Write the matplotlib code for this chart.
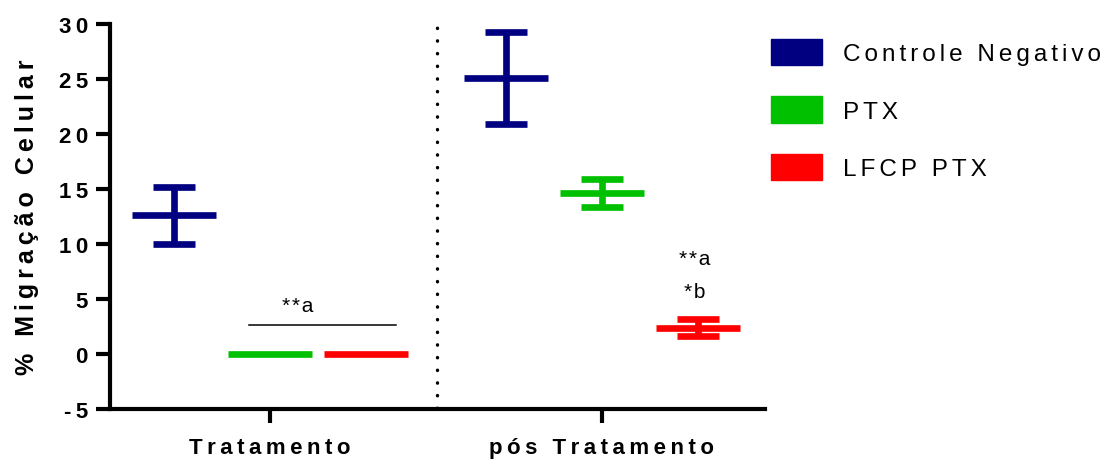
import matplotlib
matplotlib.use("Agg")
import matplotlib.pyplot as plt
from matplotlib.patches import Patch

# Data
groups = ["Tratamento", "pós Tratamento"]
series = ["Controle Negativo", "PTX", "LFCP PTX"]
colors = ["#000080", "#00C000", "#FF0000"]
means = {
    "Controle Negativo": [12.6, 25.1],
    "PTX": [0.0, 14.65],
    "LFCP PTX": [0.0, 2.4],
}
errors = {
    "Controle Negativo": [2.6, 4.2],
    "PTX": [0.0, 1.3],
    "LFCP PTX": [0.0, 0.75],
}
yticks = [-5, 0, 5, 10, 15, 20, 25, 30]

THIN = "\u2009"       # 1/5 em
SIXTH = "\u2006"      # 1/6 em
HAIR = "\u200a"


def spaced(text, sep):
    """Widen letter spacing by inserting narrow spaces between characters."""
    return sep.join(text)


plt.rcParams["font.family"] = ["Liberation Sans", "DejaVu Sans"]

fig = plt.figure(figsize=(11.04, 4.6), dpi=100)
ax = fig.add_axes([110 / 1104, 50 / 460, (765 - 110) / 1104, (410 - 25) / 460])

offsets = [-0.29, 0.0, 0.29]
half_width = 0.127
lw = 4.8

for s, off, c in zip(series, offsets, colors):
    xs = [g + off for g in range(len(groups))]
    for x, m, e in zip(xs, means[s], errors[s]):
        ax.hlines(m, x - half_width, x + half_width, color=c, lw=lw, zorder=3)
        if e > 0:
            ax.errorbar(x, m, yerr=e, fmt="none", ecolor=c, elinewidth=lw,
                        capsize=15, capthick=lw, zorder=3)

# significance marks
ax.plot([-0.063, 0.38], [2.6, 2.6], color="black", lw=1.1)
ax.text(0.084, 4.4, spaced("**a", HAIR), ha="center", va="center", fontsize=15)
ax.text(1.28, 8.7, spaced("**a", HAIR), ha="center", va="center", fontsize=15)
ax.text(1.28, 5.7, spaced("*b", HAIR), ha="center", va="center", fontsize=15)

# dotted separator between the two periods
ax.plot([0.503, 0.503], [-4.9, 30.6], color="black", lw=2.4,
        linestyle=(0, (0.1, 3.7)), dash_capstyle="round", clip_on=False)

ax.set_xlim(-0.482, 1.491)
ax.set_ylim(-5, 30)
ax.set_yticks(yticks)
ax.set_yticklabels([spaced(str(t), THIN) for t in yticks],
                   fontsize=16, fontweight="bold")
ax.set_xticks(range(len(groups)))
ax.set_xticklabels([spaced(g, THIN) for g in groups],
                   fontsize=16, fontweight="bold")
ax.set_ylabel(spaced("% Migração Celular", THIN),
              fontsize=18, fontweight="bold", labelpad=14)

for side in ["top", "right"]:
    ax.spines[side].set_visible(False)
for side in ["left", "bottom"]:
    ax.spines[side].set_linewidth(3)
ax.tick_params(axis="both", width=3, length=10, direction="out")
ax.tick_params(axis="y", pad=6)
ax.tick_params(axis="x", pad=10)

handles = [Patch(facecolor=c, edgecolor=c, label=spaced(s, SIXTH))
           for s, c in zip(series, colors)]
fig.legend(handles=handles, loc="upper left",
           bbox_to_anchor=(771 / 1104, 1 - 40 / 460),
           frameon=False, fontsize=17.5, handlelength=2.1, handleheight=1.28,
           labelspacing=1.28, handletextpad=0.85, borderpad=0, borderaxespad=0)

fig.savefig("out.png", dpi=100)
